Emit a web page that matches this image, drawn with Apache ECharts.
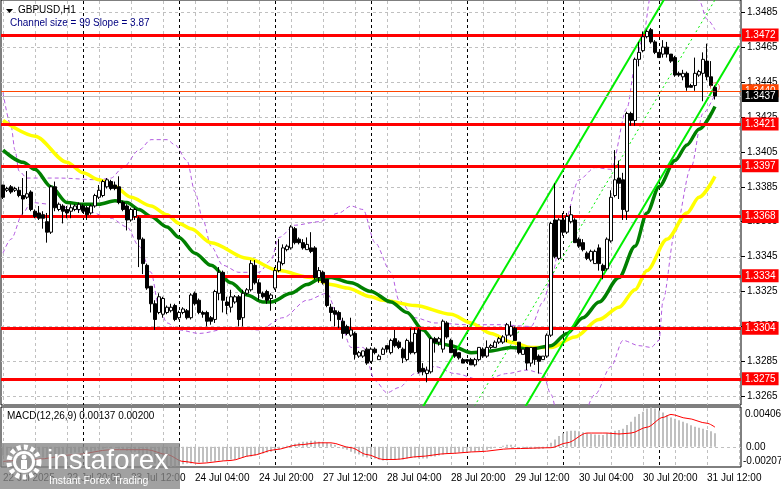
<!DOCTYPE html>
<html><head><meta charset="utf-8">
<script src="https://cdn.jsdelivr.net/npm/echarts@6/dist/echarts.min.js"></script>
<style>html,body{margin:0;padding:0;background:#fff}#c{width:781px;height:489px}</style>
</head><body><div id="c"></div>
<script>
// ---- data ----
// candles: [open, close, low, high], hourly bars
const candles = [
[1.3386,1.3379,1.3378,1.3386],[1.3383,1.3384,1.3382,1.3385],[1.3385,1.3382,1.3381,1.3386],[1.3383,1.3384,1.3382,1.3385],[1.3383,1.3380,1.3379,1.3385],
[1.3380,1.3378,1.3369,1.3390],[1.3379,1.3381,1.3378,1.3394],[1.3382,1.3372,1.3371,1.3383],[1.3371,1.3368,1.3367,1.3372],[1.3370,1.3367,1.3366,1.3374],
[1.3369,1.3367,1.3361,1.3371],[1.3365,1.3359,1.3353,1.3370],[1.3359,1.3385,1.3358,1.3386],[1.3385,1.3373,1.3371,1.3388],[1.3372,1.3375,1.3371,1.3376],
[1.3374,1.3371,1.3364,1.3375],[1.3372,1.3370,1.3367,1.3374],[1.3371,1.3373,1.3367,1.3375],[1.3372,1.3374,1.3371,1.3375],[1.3372,1.3375,1.3370,1.3376],
[1.3374,1.3371,1.3370,1.3375],[1.3373,1.3369,1.3366,1.3374],[1.3370,1.3374,1.3369,1.3375],[1.3374,1.3380,1.3373,1.3381],[1.3379,1.3383,1.3378,1.3386],
[1.3380,1.3388,1.3379,1.3389],[1.3385,1.3389,1.3384,1.3390],[1.3388,1.3384,1.3383,1.3389],[1.3386,1.3384,1.3383,1.3388],[1.3385,1.3376,1.3375,1.3391],
[1.3376,1.3372,1.3371,1.3377],[1.3374,1.3366,1.3360,1.3375],[1.3366,1.3372,1.3365,1.3373],[1.3368,1.3372,1.3366,1.3373],[1.3367,1.3355,1.3339,1.3368],
[1.3355,1.3341,1.3335,1.3356],[1.3340,1.3327,1.3326,1.3341],[1.3328,1.3318,1.3313,1.3328],[1.3318,1.3309,1.3303,1.3320],[1.3313,1.3322,1.3312,1.3324],
[1.3312,1.3321,1.3310,1.3322],[1.3313,1.3316,1.3312,1.3317],[1.3314,1.3316,1.3313,1.3318],[1.3317,1.3309,1.3308,1.3318],[1.3310,1.3313,1.3309,1.3314],
[1.3313,1.3315,1.3312,1.3316],[1.3314,1.3310,1.3309,1.3315],[1.3310,1.3323,1.3309,1.3324],[1.3324,1.3318,1.3317,1.3325],[1.3320,1.3313,1.3312,1.3321],
[1.3313,1.3312,1.3310,1.3314],[1.3313,1.3308,1.3305,1.3314],[1.3310,1.3308,1.3306,1.3311],[1.3309,1.3325,1.3307,1.3326],[1.3324,1.3336,1.3320,1.3339],
[1.3336,1.3320,1.3313,1.3337],[1.3319,1.3317,1.3312,1.3322],[1.3316,1.3322,1.3313,1.3326],[1.3319,1.3322,1.3318,1.3323],[1.3322,1.3309,1.3305,1.3323],
[1.3310,1.3324,1.3305,1.3326],[1.3324,1.3326,1.3323,1.3327],[1.3326,1.3341,1.3325,1.3343],[1.3340,1.3330,1.3329,1.3343],[1.3330,1.3324,1.3320,1.3332],
[1.3324,1.3322,1.3321,1.3325],[1.3325,1.3320,1.3318,1.3326],[1.3321,1.3323,1.3314,1.3324],[1.3327,1.3337,1.3326,1.3339],[1.3337,1.3342,1.3336,1.3355],
[1.3341,1.3350,1.3340,1.3352],[1.3349,1.3351,1.3348,1.3352],[1.3350,1.3362,1.3349,1.3363],[1.3361,1.3353,1.3352,1.3362],[1.3355,1.3353,1.3352,1.3356],
[1.3353,1.3350,1.3349,1.3355],[1.3349,1.3352,1.3349,1.3356],[1.3350,1.3348,1.3347,1.3359],[1.3350,1.3333,1.3332,1.3351],[1.3333,1.3337,1.3330,1.3339],
[1.3336,1.3330,1.3329,1.3337],[1.3332,1.3317,1.3316,1.3332],[1.3316,1.3313,1.3308,1.3318],[1.3314,1.3312,1.3305,1.3316],[1.3313,1.3309,1.3304,1.3314],
[1.3308,1.3301,1.3298,1.3310],[1.3305,1.3301,1.3300,1.3306],[1.3300,1.3303,1.3299,1.3310],[1.3301,1.3289,1.3286,1.3302],[1.3288,1.3290,1.3287,1.3291],
[1.3288,1.3291,1.3287,1.3291],[1.3292,1.3284,1.3283,1.3293],[1.3285,1.3292,1.3284,1.3293],[1.3292,1.3290,1.3289,1.3293],[1.3286,1.3288,1.3286,1.3289],
[1.3289,1.3292,1.3289,1.3293],[1.3294,1.3292,1.3290,1.3294],[1.3290,1.3297,1.3289,1.3298],[1.3298,1.3294,1.3293,1.3303],[1.3296,1.3293,1.3292,1.3297],
[1.3292,1.3287,1.3284,1.3293],[1.3286,1.3297,1.3285,1.3298],[1.3296,1.3290,1.3289,1.3304],[1.3290,1.3301,1.3289,1.3304],[1.3303,1.3279,1.3278,1.3304],
[1.3281,1.3279,1.3277,1.3284],[1.3278,1.3280,1.3273,1.3282],[1.3279,1.3298,1.3278,1.3299],[1.3298,1.3296,1.3290,1.3299],[1.3296,1.3298,1.3294,1.3299],
[1.3292,1.3308,1.3290,1.3309],[1.3307,1.3299,1.3298,1.3308],[1.3297,1.3290,1.3290,1.3298],[1.3292,1.3288,1.3287,1.3292],[1.3290,1.3287,1.3286,1.3290],
[1.3286,1.3284,1.3284,1.3287],[1.3286,1.3285,1.3284,1.3286],[1.3286,1.3283,1.3283,1.3287],[1.3283,1.3286,1.3282,1.3287],[1.3286,1.3293,1.3285,1.3293],
[1.3292,1.3288,1.3287,1.3293],[1.3288,1.3293,1.3287,1.3297],[1.3293,1.3294,1.3292,1.3295],[1.3293,1.3296,1.3293,1.3297],[1.3296,1.3298,1.3295,1.3299],
[1.3296,1.3299,1.3295,1.3300],[1.3300,1.3306,1.3296,1.3307],[1.3300,1.3305,1.3299,1.3308],[1.3304,1.3297,1.3297,1.3305],[1.3296,1.3290,1.3289,1.3296],
[1.3289,1.3292,1.3289,1.3292],[1.3293,1.3284,1.3280,1.3293],[1.3284,1.3293,1.3282,1.3293],[1.3293,1.3286,1.3283,1.3293],[1.3288,1.3285,1.3278,1.3289],
[1.3286,1.3288,1.3286,1.3288],[1.3288,1.3300,1.3287,1.3301],[1.3300,1.3364,1.3299,1.3365],[1.3366,1.3345,1.3344,1.3387],[1.3344,1.3366,1.3343,1.3367],
[1.3366,1.3359,1.3357,1.3370],[1.3359,1.3368,1.3358,1.3370],[1.3365,1.3369,1.3364,1.3374],[1.3366,1.3353,1.3353,1.3367],[1.3355,1.3351,1.3350,1.3356],
[1.3353,1.3349,1.3348,1.3355],[1.3347,1.3344,1.3343,1.3348],[1.3343,1.3348,1.3342,1.3349],[1.3341,1.3348,1.3341,1.3349],[1.3350,1.3341,1.3337,1.3352],
[1.3340,1.3337,1.3332,1.3341],[1.3338,1.3355,1.3337,1.3356],[1.3354,1.3379,1.3353,1.3383],[1.3380,1.3389,1.3379,1.3406],[1.3390,1.3387,1.3378,1.3400],
[1.3389,1.3372,1.3366,1.3393],[1.3371,1.3427,1.3366,1.3428],[1.3427,1.3423,1.3420,1.3428],[1.3423,1.3458,1.3420,1.3459],[1.3458,1.3462,1.3454,1.3468],
[1.3463,1.3471,1.3462,1.3474],[1.3471,1.3474,1.3470,1.3475],[1.3475,1.3468,1.3467,1.3476],[1.3468,1.3462,1.3461,1.3469],[1.3462,1.3459,1.3459,1.3462],
[1.3461,1.3465,1.3459,1.3469],[1.3465,1.3461,1.3459,1.3468],[1.3461,1.3457,1.3456,1.3461],[1.3459,1.3449,1.3448,1.3460],[1.3450,1.3449,1.3448,1.3451],
[1.3448,1.3450,1.3446,1.3452],[1.3450,1.3442,1.3440,1.3451],[1.3443,1.3442,1.3442,1.3444],[1.3443,1.3450,1.3440,1.3459],[1.3449,1.3451,1.3448,1.3452],
[1.3450,1.3458,1.3434,1.3462],[1.3457,1.3448,1.3446,1.3467],[1.3448,1.3443,1.3442,1.3457],[1.3442,1.3437,1.3435,1.3443]
];
// moving averages as [bar, price]
const yellowMA = [[0,1.3423],[8,1.3414],[16,1.3399],[20,1.3393],[24,1.3389],[28,1.3385],[32,1.3379],[37,1.3374],[41,1.3369],[44,1.3364],[47,1.3361],[52,1.3353],[61,1.3344],[69,1.3337],[77,1.3333],[82,1.3329],[86,1.3327],[92,1.3322],[95,1.3320],[103,1.3317],[112,1.3312],[117,1.3307],[122,1.3301],[127,1.3296],[132,1.3293],[137,1.3293],[143,1.3299],[149,1.3309],[154,1.3316],[158,1.3326],[161,1.3337],[166,1.3355],[171,1.3370],[174,1.3379],[178,1.3391]];
const greenMA = [[0,1.3406],[5,1.3399],[8,1.3395],[12,1.3385],[16,1.3376],[20,1.3375],[24,1.3375],[28,1.3377],[31,1.3376],[34,1.3372],[37,1.3368],[41,1.3362],[44,1.3356],[48,1.3347],[52,1.3340],[57,1.3330],[61,1.3323],[65,1.3319],[67,1.3319],[72,1.3324],[76,1.3329],[79,1.3332],[82,1.3333],[87,1.3330],[92,1.3325],[97,1.3319],[101,1.3313],[105,1.3303],[108,1.3296],[112,1.3294],[117,1.3290],[122,1.3291],[127,1.3293],[132,1.3292],[137,1.3294],[141,1.3301],[145,1.3310],[149,1.3319],[154,1.3333],[158,1.3351],[161,1.3370],[164,1.3385],[168,1.3400],[171,1.3409],[174,1.3418],[178,1.3431]];
// envelope bands [bar, price]
const bandUpper = [[0,1.3439],[2,1.3420],[3,1.3406],[4,1.3394],[6,1.3390],[14,1.3390],[24,1.3389],[27,1.3390],[30,1.3396],[34,1.3406],[37,1.3412],[41,1.3412],[43,1.3409],[46,1.3400],[48,1.3382],[50,1.3366],[52,1.3351],[55,1.3340],[59,1.3336],[64,1.3336],[67,1.3343],[69,1.3356],[73,1.3363],[79,1.3365],[84,1.3370],[87,1.3374],[90,1.3372],[93,1.3353],[97,1.3336],[99,1.3320],[103,1.3310],[108,1.3307],[116,1.3306],[124,1.3306],[132,1.3305],[135,1.3319],[137,1.3332],[140,1.3362],[144,1.3389],[148,1.3396],[152,1.3395],[156,1.3430],[158,1.3454],[160,1.3471],[162,1.3495],[166,1.3512],[170,1.3508],[174,1.3492],[176,1.3481],[178,1.3475]];
const bandLower = [[0,1.3347],[2,1.3355],[5,1.3370],[7,1.3376],[12,1.3375],[16,1.3373],[21,1.3371],[27,1.3367],[31,1.3362],[34,1.3351],[37,1.3336],[39,1.3316],[41,1.3307],[44,1.3303],[49,1.3301],[57,1.3304],[64,1.3303],[70,1.3310],[76,1.3320],[81,1.3324],[84,1.3310],[87,1.3293],[90,1.3293],[93,1.3274],[96,1.3267],[99,1.3270],[103,1.3278],[108,1.3282],[113,1.3278],[120,1.3274],[126,1.3278],[131,1.3280],[135,1.3278],[137,1.3266],[139,1.3251],[144,1.3249],[148,1.3266],[152,1.3282],[155,1.3297],[159,1.3294],[162,1.3293],[164,1.3297],[165,1.3320],[168,1.3359],[172,1.3396],[175,1.3427],[178,1.3438]];
// regression channel end points [bar, price]
const channelUpper = [[100,1.32397],[184,1.35648]];
const channelMiddle = [[100,1.31902],[184,1.35153]];
const channelLower = [[100,1.31407],[184,1.34658]];
// horizontal levels
const redLevels = [1.3472,1.3421,1.3397,1.3368,1.3334,1.3304,1.3275];
const alertLevel = 1.3440;
const bidLevel = 1.3437;
const alertPoint = [[178,1.3442]];
const priceTicks = [1.3485,1.3465,1.3445,1.3425,1.3405,1.3385,1.3365,1.3345,1.3325,1.3305,1.3285,1.3265];
// time axis
const timeTickBars = [0,16,32,48,64,80,96,112,128,144,160,176];
const timeTickLabels = ['22 Jul 2025','22 Jul 20:00','23 Jul 12:00','24 Jul 04:00','24 Jul 20:00','27 Jul 12:00','28 Jul 04:00','28 Jul 20:00','29 Jul 12:00','30 Jul 04:00','30 Jul 20:00','31 Jul 12:00'];
const daySeparatorBars = [20,44,68,92,116,140,164];
// MACD
const macdHist = [
-0.0009,-0.0009,-0.0008,-0.0008,-0.0008,-0.0008,-0.0007,-0.0008,-0.0009,-0.0010,
-0.0011,-0.0012,-0.0009,-0.0008,-0.0008,-0.0008,-0.0007,-0.0007,-0.0006,-0.0006,
-0.0005,-0.0005,-0.0005,-0.0004,-0.0003,-0.0002,-0.0001,-0.0001,0.0000,-0.0002,
-0.0003,-0.0004,-0.0005,-0.0005,-0.0007,-0.0009,-0.0012,-0.0014,-0.0017,-0.0018,
-0.0019,-0.0020,-0.00207,-0.0020,-0.0019,-0.0018,-0.0017,-0.0017,-0.0016,-0.0016,
-0.0016,-0.0016,-0.0015,-0.0015,-0.0014,-0.0014,-0.0014,-0.0013,-0.0013,-0.0012,
-0.0011,-0.0010,-0.0010,-0.0009,-0.0008,-0.0007,-0.0006,-0.0005,-0.0004,-0.0003,
-0.0001,0.0001,0.0002,0.0003,0.0004,0.0005,0.0005,0.0006,0.0006,0.0005,
0.0005,0.0004,0.0003,0.0002,0.0000,-0.0002,-0.0003,-0.0005,-0.0007,-0.0008,
-0.0010,-0.0011,-0.0012,-0.0012,-0.0013,-0.0014,-0.0014,-0.0013,-0.0013,-0.0013,
-0.0013,-0.0012,-0.0011,-0.0011,-0.0012,-0.0012,-0.0012,-0.0010,-0.0010,-0.0009,
-0.0008,-0.0007,-0.0007,-0.0007,-0.0006,-0.0006,-0.0006,-0.0005,-0.0005,-0.0004,
-0.0004,-0.0003,-0.0002,-0.0001,0.0000,0.0001,0.0002,0.0002,0.0001,0.0000,
-0.0001,-0.0002,-0.0002,-0.0002,-0.0002,-0.0002,-0.0001,
0.00041,0.00075,0.00109,0.00137,0.00157,0.00164,0.00164,0.00157,0.00147,0.00137,
0.00130,0.00126,0.00123,0.00119,0.00137,0.00150,0.00164,0.00171,0.00184,0.00222,
0.00256,0.00307,0.00334,0.00358,0.00390,0.00400,0.00390,0.00370,0.00350,0.00325,
0.00300,0.00285,0.00270,0.00255,0.00239,0.00220,0.00205,0.00195,0.00185,0.00172,
0.00158,0.00137
];
const macdSignal = [[0,-0.0015],[8,-0.0013],[18,-0.0008],[27,-0.0003],[36,-0.0003],[41,-0.0008],[45,-0.0015],[49,-0.0017],[57,-0.0014],[62,-0.0009],[68,-0.0003],[74,0.0002],[79,0.0004],[82,0.0004],[87,-0.0001],[91,-0.0008],[95,-0.0013],[98,-0.0013],[104,-0.0010],[111,-0.0007],[119,-0.0005],[127,-0.0002],[137,-0.0001],[141,0.0004],[146,0.0014],[151,0.0014],[154,0.0013],[157,0.0014],[161,0.0020],[165,0.0030],[167,0.0033],[171,0.0029],[176,0.0024],[178,0.0020]];
const macdTicks = [0.00406, 0, -0.00207];
const macdTickLabels = ['0.00406','0.00','-0.00207'];

// ---- chart ----
const FONT = "'Liberation Sans', Arial, sans-serif";
const GRID_GRAY = '#c0c0c0';
const N = 185;
const cats = []; for (let i = 0; i < N; i++) cats.push(String(i));
const tickMap = {}; timeTickBars.forEach((b, k) => { tickMap[b] = timeTickLabels[k]; });

const redMarks = redLevels.map(v => ({yAxis: v, lineStyle:{color:'#ff0000', width:3, type:'solid'},
  label:{show:true, position:'end', distance:1, formatter: v.toFixed(4), color:'#fff', backgroundColor:'#ff0000', padding:[2,3,1,3], fontSize:10, fontFamily:FONT}}));
const ml = (data) => ({silent:true, symbol:['none','none'], precision:6, animation:false, data});

const option = {
  animation: false,
  backgroundColor: '#ffffff',
  grid: [
    {left:1, right:40, top:0, height:405, show:true, borderColor:'#000', borderWidth:1, backgroundColor:'transparent'},
    {left:1, right:40, top:407, height:60, show:true, borderColor:'#000', borderWidth:1, backgroundColor:'transparent'}
  ],
  xAxis: [
    {gridIndex:0, type:'category', data:cats, boundaryGap:true, axisLine:{show:false}, axisTick:{show:false}, axisLabel:{show:false}, splitLine:{show:false}},
    {gridIndex:1, type:'category', data:cats, boundaryGap:true, axisLine:{show:false}, axisTick:{show:false}, splitLine:{show:false},
     axisLabel:{show:true, interval:(i) => tickMap[i] !== undefined, formatter:(v, i) => tickMap[i] || '', align:'left', margin:6, color:'#000', fontSize:10, fontFamily:FONT}}
  ],
  yAxis: [
    {gridIndex:0, type:'value', min:1.3260, max:1.3492, position:'right', axisLine:{show:false},
     axisTick:{show:true, length:4, customValues:priceTicks, lineStyle:{color:'#000'}},
     axisLabel:{show:true, customValues:priceTicks, formatter:(v) => v.toFixed(4), color:'#000', fontSize:10, fontFamily:FONT, margin:6},
     splitLine:{show:false}},
    {gridIndex:1, type:'value', min:-0.00207, max:0.00406, position:'right', axisLine:{show:false}, axisTick:{show:false}, axisLabel:{show:false}, splitLine:{show:false}}
  ],
  series: [
    {type:'line', xAxisIndex:0, yAxisIndex:0, data:bandUpper, smooth:0.3, smoothMonotone:'x', symbol:'none', z:2, lineStyle:{color:'#b35ce0', width:1, type:[4,3]}},
    {type:'line', xAxisIndex:0, yAxisIndex:0, data:bandLower, smooth:0.3, smoothMonotone:'x', symbol:'none', z:2, lineStyle:{color:'#b35ce0', width:1, type:[4,3]}},
    {type:'line', xAxisIndex:0, yAxisIndex:0, data:yellowMA, smooth:0.3, smoothMonotone:'x', symbol:'none', z:2, lineStyle:{color:'#ffff00', width:3.5}},
    {type:'line', xAxisIndex:0, yAxisIndex:0, data:greenMA, smooth:0.3, smoothMonotone:'x', symbol:'none', z:2, lineStyle:{color:'#008000', width:3.5}},
    {type:'line', xAxisIndex:0, yAxisIndex:0, data:channelUpper, symbol:'none', z:3, lineStyle:{color:'#00ee00', width:2}},
    {type:'line', xAxisIndex:0, yAxisIndex:0, data:channelMiddle, symbol:'none', z:3, lineStyle:{color:'#00ee00', width:1, type:[2,3]}},
    {type:'line', xAxisIndex:0, yAxisIndex:0, data:channelLower, symbol:'none', z:3, lineStyle:{color:'#00ee00', width:2}},
    {type:'line', xAxisIndex:0, yAxisIndex:0, data:[], z:4, markLine: ml(redMarks)},
    {type:'line', xAxisIndex:0, yAxisIndex:0, data:[], z:4, markLine: ml([
      {yAxis: alertLevel, lineStyle:{color:'#ff4500', width:1, type:'solid'},
       label:{show:true, position:'end', distance:1, formatter: alertLevel.toFixed(4), color:'#fff', backgroundColor:'#ff4500', padding:[2,3,1,3], fontSize:10, fontFamily:FONT}},
      {yAxis: bidLevel, lineStyle:{color:'#c0c0c0', width:1, type:'solid'},
       label:{show:true, position:'end', distance:1, formatter: bidLevel.toFixed(4), color:'#fff', backgroundColor:'#000', padding:[1,3,1,3], fontSize:10, fontFamily:FONT}}
    ])},
    {type:'candlestick', xAxisIndex:0, yAxisIndex:0, data:candles, barWidth:3, z:5,
     itemStyle:{color:'#ffffff', color0:'#000000', borderColor:'#000000', borderColor0:'#000000', borderWidth:1}},
    {type:'scatter', xAxisIndex:0, yAxisIndex:0, data:alertPoint, symbol:'circle', symbolSize:9, z:6,
     itemStyle:{color:'rgba(0,0,0,0)', borderColor:'#ff5050', borderWidth:1, borderType:'dashed'}},
    {type:'bar', xAxisIndex:1, yAxisIndex:1, data:macdHist, barWidth:2, z:2, itemStyle:{color:'#c0c0c0'}},
    {type:'line', xAxisIndex:1, yAxisIndex:1, data:macdSignal, smooth:0.3, smoothMonotone:'x', symbol:'none', z:3, lineStyle:{color:'#ff0000', width:1}}
  ]
};

const chart = echarts.init(document.getElementById('c'), null, {renderer:'canvas'});
chart.setOption(option);

// crisp dashed grid, day separators, MACD texts, header and watermark placed through the chart's own scales
const px = (axis, v) => chart.convertToPixel(axis, v);
const snap = (p) => Math.round(p) + 0.5;
const mainTop = px({yAxisIndex:0}, 1.3492), mainBot = px({yAxisIndex:0}, 1.3260);
const macdTop = px({yAxisIndex:1}, 0.00406), macdBot = px({yAxisIndex:1}, -0.00207);
const xLeft = px({xAxisIndex:0}, cats[0]) - 2, xRight = px({xAxisIndex:0}, cats[N - 1]) + 2;
const G = [];
function vline(x, y1, y2, color) {
  G.push({type:'line', z:1, silent:true, shape:{x1:x, y1:y1, x2:x, y2:y2}, style:{stroke:color, lineWidth:1, lineDash:[3,3]}});
}
for (let b = 0; b < N; b += 8) {
  const x = snap(px({xAxisIndex:0}, cats[b]));
  vline(x, mainTop + 1, mainBot, GRID_GRAY);
  vline(x, macdTop + 1, macdBot, GRID_GRAY);
}
daySeparatorBars.forEach(b => {
  const x = snap(px({xAxisIndex:0}, cats[b]));
  vline(x, mainTop + 1, mainBot, '#000');
  vline(x, macdTop + 1, macdBot, '#000');
});
priceTicks.forEach(v => {
  const y = snap(px({yAxisIndex:0}, v));
  G.push({type:'line', z:1, silent:true, shape:{x1:xLeft, y1:y, x2:xRight, y2:y}, style:{stroke:GRID_GRAY, lineWidth:1, lineDash:[3,3]}});
});
const yZero = snap(px({yAxisIndex:1}, 0));
G.push({type:'line', z:1, silent:true, shape:{x1:xLeft, y1:yZero, x2:xRight, y2:yZero}, style:{stroke:GRID_GRAY, lineWidth:1, lineDash:[3,3]}});
const macdOffsets = [7, 1, -6];
const macdX = [745, 746, 743];
macdTicks.forEach((v, k) => {
  G.push({type:'text', z:50, x: macdX[k], y: px({yAxisIndex:1}, v) + macdOffsets[k],
    style:{text: macdTickLabels[k], fill:'#000', font:'10px ' + FONT, verticalAlign:'middle'}});
});
G.push(
  {type:'polygon', shape:{points:[[6,9],[13,9],[9.5,13]]}, style:{fill:'#000'}, z:50},
  {type:'text', x:18, y:10.5, z:50, style:{text:'GBPUSD,H1', fill:'#000', font:'10px ' + FONT, verticalAlign:'middle'}},
  {type:'text', x:10, y:23.5, z:50, style:{text:'Channel size = 99 Slope = 3.87', fill:'#000080', font:'10px ' + FONT, verticalAlign:'middle'}},
  {type:'text', x:7, y:416.5, z:50, style:{text:'MACD(12,26,9) 0.00137 0.00200', fill:'#000', font:'10px ' + FONT, verticalAlign:'middle'}},
  {type:'group', z:100, children:[
    {type:'rect', shape:{x:0, y:443, width:180, height:46}, style:{fill:'rgba(135,135,135,0.78)'}, z:100},
    {type:'circle', shape:{cx:24, cy:462, r:15}, style:{fill:'none', stroke:'#fff', lineWidth:5, lineDash:[4,3]}, z:101},
    {type:'circle', shape:{cx:24, cy:462, r:11}, style:{fill:'#fff'}, z:101},
    {type:'circle', shape:{cx:24, cy:462, r:8}, style:{fill:'rgb(150,150,150)'}, z:102},
    {type:'circle', shape:{cx:24, cy:457, r:2.5}, style:{fill:'#fff'}, z:103},
    {type:'rect', shape:{x:21, y:460, width:6, height:9}, style:{fill:'#fff'}, z:103},
    {type:'text', x:47, y:461, z:104, style:{text:'instaforex', fill:'#fff', font:'28px ' + FONT, verticalAlign:'middle'}},
    {type:'text', x:49, y:481, z:104, style:{text:'Instant Forex Trading', fill:'#fff', font:'10.5px ' + FONT, verticalAlign:'middle'}}
  ]}
);
chart.setOption({graphic: G});
</script>
</body></html>
